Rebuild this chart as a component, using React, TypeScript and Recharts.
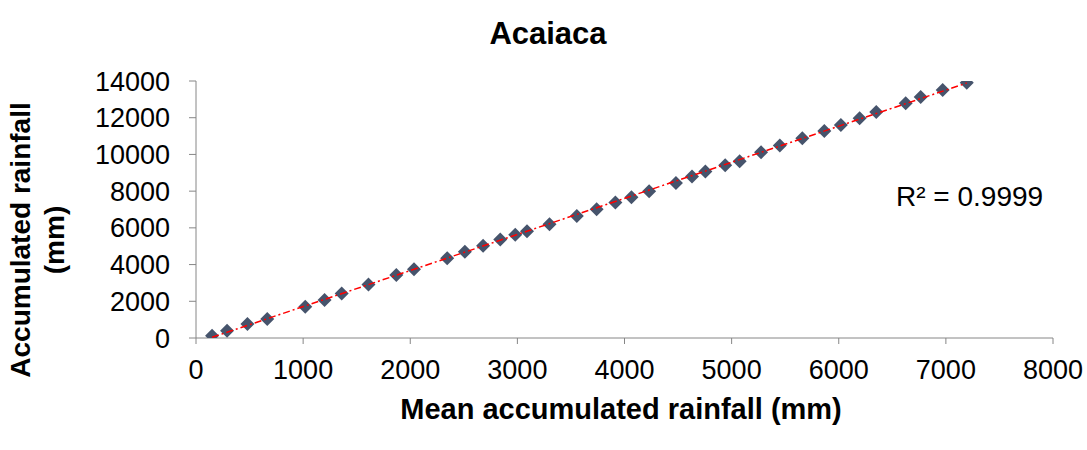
import { ScatterChart, Scatter, XAxis, YAxis } from "recharts";

// mean accumulated rainfall (mm), x values
const meanRain = [
  150, 290, 480, 665, 1020, 1200, 1360, 1610, 1870, 2035,
  2345, 2510, 2680, 2840, 2980, 3090, 3300, 3555, 3740, 3915,
  4065, 4230, 4480, 4630, 4755, 4940, 5075, 5275, 5450, 5660,
  5865, 6020, 6195, 6350, 6625, 6765, 6970, 7195,
];
// accumulated rainfall at Acaiaca (mm), y values
const stationRain = [
  125, 400, 760, 1030, 1700, 2070, 2430, 2920, 3430, 3750,
  4350, 4700, 5020, 5370, 5620, 5820, 6200, 6650, 7020, 7380,
  7670, 8000, 8450, 8800, 9070, 9410, 9630, 10120, 10480, 10880,
  11280, 11600, 11970, 12310, 12790, 13130, 13510, 13910,
];
const xTicks = [0, 1000, 2000, 3000, 4000, 5000, 6000, 7000, 8000];
const yTicks = [0, 2000, 4000, 6000, 8000, 10000, 12000, 14000];

const points = meanRain.map((x, i) => ({ x, y: stationRain[i] }));

// linear trendline (least squares) from the points
const n = points.length;
const sx = meanRain.reduce((a, b) => a + b, 0);
const sy = stationRain.reduce((a, b) => a + b, 0);
const sxy = points.reduce((a, p) => a + p.x * p.y, 0);
const sxx = meanRain.reduce((a, b) => a + b * b, 0);
const slope = (n * sxy - sx * sy) / (n * sxx - sx * sx);
const intercept = (sy - slope * sx) / n;
const xMin = Math.min(...meanRain);
const xMax = Math.max(...meanRain);
const trend = [
  { x: xMin, y: slope * xMin + intercept },
  { x: xMax, y: slope * xMax + intercept },
];

const font = "Arial, 'Liberation Sans', sans-serif";
const axisGray = "#868686";

const Diamond = (props: any) => {
  const { cx, cy } = props;
  const r = 7;
  return (
    <polygon
      points={`${cx},${cy - r} ${cx + r},${cy} ${cx},${cy + r} ${cx - r},${cy}`}
      fill="#46546C"
    />
  );
};

const NoDot = () => <g />;

export default function App() {
  const tick = { fill: "#000", fontSize: 27, fontFamily: font };
  return (
    <div style={{ position: "absolute", left: 0, top: 0, width: 1087, height: 450, background: "#fff" }}>
      <ScatterChart width={1087} height={450} margin={{ top: 81, right: 34, bottom: 72, left: 0 }}>
        <XAxis
          type="number"
          dataKey="x"
          domain={[0, 8000]}
          ticks={xTicks}
          interval={0}
          height={40}
          tick={tick}
          tickSize={6}
          tickMargin={16}
          stroke={axisGray}
          tickLine={{ stroke: axisGray }}
          allowDataOverflow
        />
        <YAxis
          type="number"
          dataKey="y"
          domain={[0, 14000]}
          ticks={yTicks}
          interval={0}
          width={196}
          tick={tick}
          tickSize={7}
          tickMargin={19}
          stroke={axisGray}
          tickLine={{ stroke: axisGray }}
          allowDataOverflow
        />
        <Scatter data={points} shape={<Diamond />} isAnimationActive={false} />
        <Scatter
          data={trend}
          line={{ stroke: "#FF0000", strokeWidth: 1.5, strokeDasharray: "7 3 2 3" }}
          lineType="joint"
          shape={<NoDot />}
          isAnimationActive={false}
        />
      </ScatterChart>

      <div style={{ position: "absolute", left: 548, top: 33, transform: "translate(-50%,-50%)", fontFamily: font, fontWeight: "bold", fontSize: 31, lineHeight: 1, whiteSpace: "nowrap" }}>
        Acaiaca
      </div>
      <div style={{ position: "absolute", left: 621, top: 409, transform: "translate(-50%,-50%)", fontFamily: font, fontWeight: "bold", fontSize: 29, lineHeight: 1, whiteSpace: "nowrap" }}>
        Mean accumulated rainfall (mm)
      </div>
      <div style={{ position: "absolute", left: 38, top: 240, transform: "translate(-50%,-50%) rotate(-90deg)", fontFamily: font, fontWeight: "bold", fontSize: 28, lineHeight: "34px", whiteSpace: "nowrap", textAlign: "center" }}>
        Accumulated rainfall
        <br />
        (mm)
      </div>
      <div style={{ position: "absolute", left: 896, top: 183, fontFamily: font, fontSize: 28, lineHeight: 1, whiteSpace: "nowrap" }}>
        R² = 0.9999
      </div>
    </div>
  );
}
